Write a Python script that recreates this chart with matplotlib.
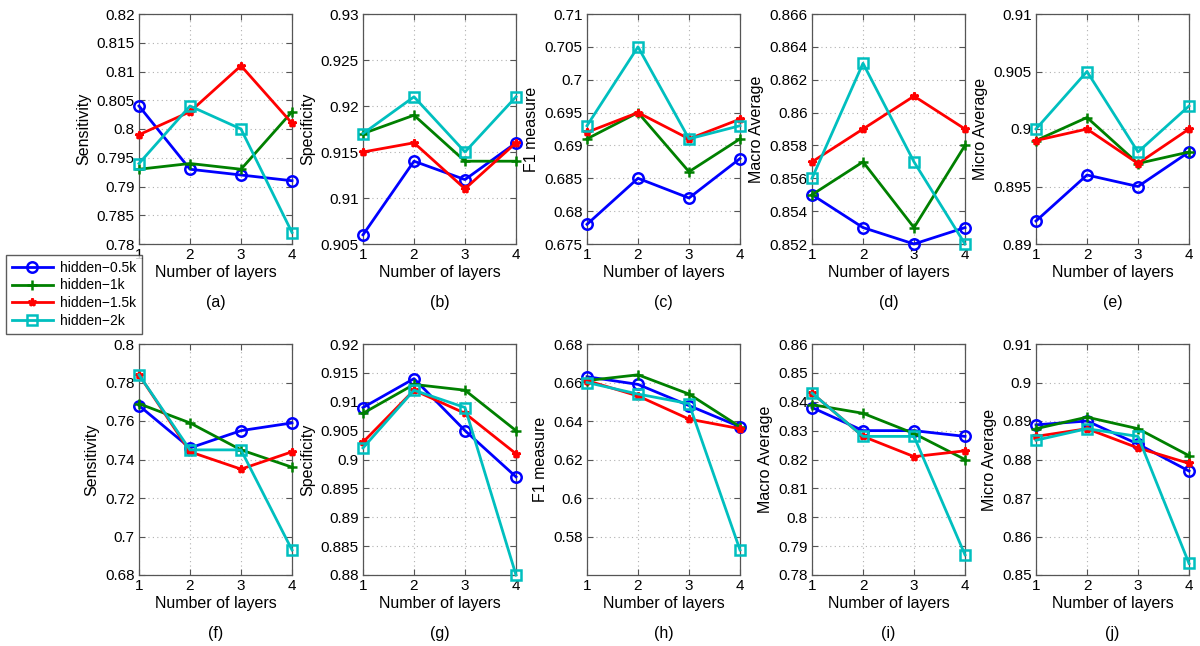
import matplotlib
matplotlib.use("Agg")
import matplotlib.pyplot as plt
from matplotlib.lines import Line2D

plt.rcParams['font.family'] = ['Liberation Sans', 'DejaVu Sans']

layers = [1, 2, 3, 4]
series_names = ["hidden\u22120.5k", "hidden\u22121k", "hidden\u22121.5k", "hidden\u22122k"]

# Row 1
sens_a = [[0.804, 0.793, 0.792, 0.791], [0.793, 0.794, 0.793, 0.803],
          [0.799, 0.803, 0.811, 0.801], [0.794, 0.804, 0.800, 0.782]]
spec_b = [[0.906, 0.914, 0.912, 0.916], [0.917, 0.919, 0.914, 0.914],
          [0.915, 0.916, 0.911, 0.916], [0.917, 0.921, 0.915, 0.921]]
f1_c = [[0.678, 0.685, 0.682, 0.688], [0.691, 0.695, 0.686, 0.691],
        [0.692, 0.695, 0.691, 0.694], [0.693, 0.705, 0.691, 0.693]]
macro_d = [[0.855, 0.853, 0.852, 0.853], [0.855, 0.857, 0.853, 0.858],
           [0.857, 0.859, 0.861, 0.859], [0.856, 0.863, 0.857, 0.852]]
micro_e = [[0.892, 0.896, 0.895, 0.898], [0.899, 0.901, 0.897, 0.898],
           [0.899, 0.900, 0.897, 0.900], [0.900, 0.905, 0.898, 0.902]]
# Row 2
sens_f = [[0.768, 0.746, 0.755, 0.759], [0.769, 0.759, 0.745, 0.736],
          [0.784, 0.744, 0.735, 0.744], [0.784, 0.745, 0.745, 0.693]]
spec_g = [[0.909, 0.914, 0.905, 0.897], [0.908, 0.913, 0.912, 0.905],
          [0.903, 0.912, 0.908, 0.901], [0.902, 0.912, 0.909, 0.880]]
f1_h = [[0.663, 0.659, 0.648, 0.637], [0.661, 0.664, 0.654, 0.637],
        [0.661, 0.653, 0.641, 0.636], [0.660, 0.654, 0.649, 0.573]]
macro_i = [[0.838, 0.830, 0.830, 0.828], [0.839, 0.836, 0.829, 0.820],
           [0.843, 0.828, 0.821, 0.823], [0.843, 0.828, 0.828, 0.787]]
micro_j = [[0.889, 0.890, 0.884, 0.877], [0.888, 0.891, 0.888, 0.881],
           [0.886, 0.888, 0.883, 0.879], [0.885, 0.888, 0.886, 0.853]]

panels = [
    (sens_a, "Sensitivity", (0.78, 0.82), [0.78, 0.785, 0.79, 0.795, 0.8, 0.805, 0.81, 0.815, 0.82], "(a)"),
    (spec_b, "Specificity", (0.905, 0.93), [0.905, 0.91, 0.915, 0.92, 0.925, 0.93], "(b)"),
    (f1_c, "F1 measure", (0.675, 0.71), [0.675, 0.68, 0.685, 0.69, 0.695, 0.7, 0.705, 0.71], "(c)"),
    (macro_d, "Macro Average", (0.852, 0.866), [0.852, 0.854, 0.856, 0.858, 0.86, 0.862, 0.864, 0.866], "(d)"),
    (micro_e, "Micro Average", (0.89, 0.91), [0.89, 0.895, 0.9, 0.905, 0.91], "(e)"),
    (sens_f, "Sensitivity", (0.68, 0.80), [0.68, 0.7, 0.72, 0.74, 0.76, 0.78, 0.8], "(f)"),
    (spec_g, "Specificity", (0.88, 0.92), [0.88, 0.885, 0.89, 0.895, 0.9, 0.905, 0.91, 0.915, 0.92], "(g)"),
    (f1_h, "F1 measure", (0.56, 0.68), [0.58, 0.6, 0.62, 0.64, 0.66, 0.68], "(h)"),
    (macro_i, "Macro Average", (0.78, 0.86), [0.78, 0.79, 0.8, 0.81, 0.82, 0.83, 0.84, 0.85, 0.86], "(i)"),
    (micro_j, "Micro Average", (0.85, 0.91), [0.85, 0.86, 0.87, 0.88, 0.89, 0.9, 0.91], "(j)"),
]

colors = ["#0000ff", "#008000", "#ff0000", "#00bfbf"]
markers = ["o", "+", "*", "s"]
msizes = [7.5, 7.5, 6, 7]

W, H = 1200, 646
fig = plt.figure(figsize=(12, 6.46), dpi=100)

col_left = [139, 363, 587, 812, 1036]
axw = 153
rows = [(14, 244), (344, 575)]

def tick_fmt(v):
    s = ("%.3f" % v).rstrip("0").rstrip(".")
    return s

for idx, (data, ylabel, ylim, yticks, cap) in enumerate(panels):
    r, c = divmod(idx, 5)
    top, bot = rows[r]
    left = col_left[c]
    ax = fig.add_axes([left / W, 1 - bot / H, axw / W, (bot - top) / H])
    for k in range(4):
        mfc = 'none' if markers[k] in ('o', 's') else colors[k]
        ax.plot(layers, data[k], color=colors[k], lw=2, marker=markers[k],
                ms=msizes[k], mfc=mfc, mec=colors[k], mew=1.8, clip_on=False, zorder=3)
    ax.set_xlim(1, 4)
    ax.set_ylim(*ylim)
    ax.set_xticks(layers)
    ax.set_yticks(yticks)
    ax.set_yticklabels([tick_fmt(v) for v in yticks])
    ax.grid(True, linestyle=(0, (1, 3)), color="#b0b0b0", lw=0.8)
    ax.tick_params(direction='in', length=4, labelsize=11, color="#555555", width=0.8,
                   top=True, right=True, pad=3)
    for sp in ax.spines.values():
        sp.set_color("#555555")
        sp.set_linewidth(0.9)
    ax.set_xlabel("Number of layers", fontsize=11.5, labelpad=2)
    ax.set_ylabel(ylabel, fontsize=11.5, labelpad=4)
    ax.text(0.5, -0.255, cap, transform=ax.transAxes, ha='center', va='center', fontsize=11.5)

handles = [Line2D([0], [0], color=colors[k], lw=2, marker=markers[k], ms=msizes[k],
                  mfc=('none' if markers[k] in ('o', 's') else colors[k]),
                  mec=colors[k], mew=1.8) for k in range(4)]
leg = fig.legend(handles, series_names, loc='upper left',
                 bbox_to_anchor=(6 / W, 1 - 255 / H), bbox_transform=fig.transFigure,
                 fontsize=10, frameon=True, fancybox=False, borderaxespad=0,
                 handlelength=3.0, handletextpad=0.5, labelspacing=0.28, borderpad=0.4)
leg.get_frame().set_edgecolor("#333333")
leg.get_frame().set_linewidth(1.0)

fig.savefig("out.png", dpi=100)
